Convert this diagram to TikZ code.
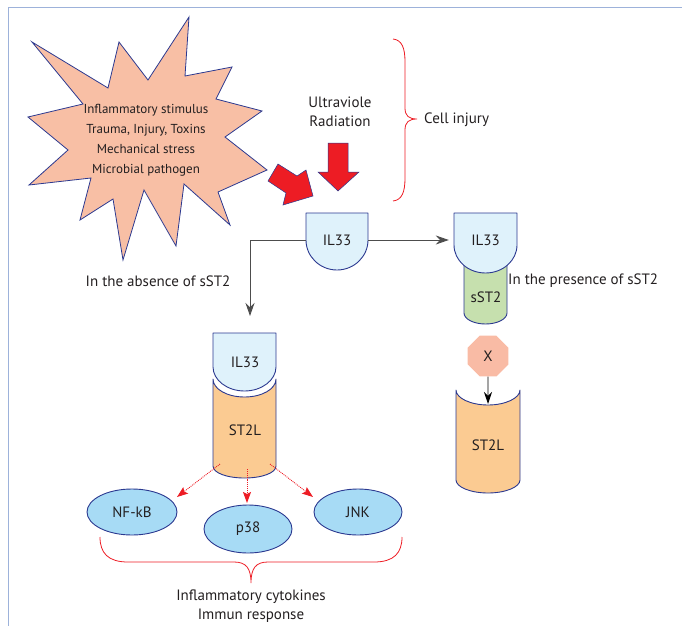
\documentclass[tikz,border=0pt]{standalone}
\usepackage{fontspec}
\setmainfont{PT Sans}
\usetikzlibrary{arrows.meta,shapes.geometric,calc}
\definecolor{framec}{HTML}{9DB2DA}
\definecolor{starfill}{HTML}{F8BFA5}
\definecolor{edgeblue}{HTML}{2B3990}
\definecolor{ilfill}{HTML}{DFF2FB}
\definecolor{stfill}{HTML}{FBCB92}
\definecolor{sstfill}{HTML}{C6E0AE}
\definecolor{xfill}{HTML}{F9BBA5}
\definecolor{elfill}{HTML}{A7DBF5}
\definecolor{redc}{HTML}{ED1C24}
\definecolor{txt}{HTML}{231F20}
\definecolor{linegray}{HTML}{4D4D4D}
\tikzset{
  shapeline/.style={draw=edgeblue, line width=0.9pt, line join=round},
  lbl/.style={inner sep=0pt, font=\fontsize{15}{17}\selectfont, text=txt},
  boxlbl/.style={inner sep=0pt, draw=none, font=\fontsize{15}{17}\selectfont, text=txt},
  conn/.style={draw=linegray, line width=0.9pt, -{Stealth[length=13pt, width=9pt]}},
  redconn/.style={draw=redc, line width=0.9pt, densely dotted, -{Stealth[length=11pt, width=8pt, inset=2pt, fill=redc]}},
  redarrow/.style={fill=redc, draw=edgeblue, line width=0.5pt, line join=miter},
  brace/.style={draw=redc, line width=0.8pt},
  oval/.style={ellipse, shapeline, fill=elfill, minimum width=90pt, minimum height=46pt, inner sep=0pt, font=\fontsize{15}{17}\selectfont, text=txt}
}
\begin{document}
\begin{tikzpicture}[x=1pt, y=-1pt]
\useasboundingbox (0,0) rectangle (682,626);
% frame
\draw[framec, line width=1pt] (682,7.5) -- (8.5,7.5) -- (8.5,626);
% star
\draw[shapeline, fill=starfill, line join=miter, line width=0.8pt]
 (32,42) -- (108,88) -- (119,42) -- (148,80) -- (189,17) -- (185,76) -- (232,67) -- (216,99)
 -- (262,111) -- (225,137) -- (267,170) -- (218,192) -- (230,225) -- (184,184) -- (176,246)
 -- (144,190) -- (123,260) -- (113,199) -- (80,220) -- (91,178) -- (29,185) -- (68,150)
 -- (28,117) -- (83,104) -- cycle;
\node[lbl, align=center, font=\fontsize{13}{20}\selectfont] (stim) at (146,140)
 {Inflammatory stimulus\\Trauma, Injury, Toxins\\Mechanical stress\\Microbial pathogen};
% Ultraviolet label
\node[lbl, align=center, font=\fontsize{15}{19}\selectfont] (uv) at (340,112) {Ultraviole\\Radiation};
% red arrows
\draw[redarrow] (328,143) -- (348,143) -- (348,172) -- (359,172) -- (338,191) -- (318,172) -- (328,172) -- cycle;
\draw[redarrow] (278,164) -- (297,176) -- (306,170) -- (313,196) -- (283,205) -- (286,193) -- (268,181) -- cycle;
% cell injury brace
\draw[brace] (393,39) .. controls (402,40) and (405,48) .. (405,62) -- (405,108)
  .. controls (405,116) and (409,119) .. (417,119)
  .. controls (409,119) and (405,122) .. (405,130) -- (405,178)
  .. controls (405,192) and (402,200) .. (393,201);
\node[lbl, anchor=west] (inj) at (424,120) {Cell injury};
% central IL33
\draw[shapeline, fill=ilfill] (306,213) -- (368,213) -- (368,240)
  .. controls (368,256.5) and (354.1,270) .. (337,270)
  .. controls (319.9,270) and (306,256.5) .. (306,240) -- cycle;
\node[boxlbl, minimum width=62pt, minimum height=54pt] (il33c) at (337,240) {IL33};
% right sST2 and IL33
\draw[shapeline, fill=sstfill] (464,250) -- (464,313)
  .. controls (464,319) and (473.6,324) .. (485.5,324)
  .. controls (497.4,324) and (507,319) .. (507,313) -- (507,250);
\node[boxlbl] (sst2) at (486,297) {sST2};
\draw[shapeline, fill=ilfill] (454,213) -- (517,213) -- (517,245)
  .. controls (517,260.5) and (502.9,273) .. (485.5,273)
  .. controls (468.1,273) and (454,260.5) .. (454,245) -- cycle;
\node[boxlbl, minimum width=63pt, minimum height=54pt] (il33r) at (485.5,240) {IL33};
% connectors from IL33
\coordinate (corner) at (250,240);
\coordinate (downend) at (250,316);
\draw[conn] (il33c.west) -- (corner) -- (downend);
\draw[conn, shorten >=5pt] (il33c.east) -- (il33r.west);
\node[lbl] (absence) at (158,281) {In the absence of sST2};
\node[lbl, anchor=west] (presence) at (508,281) {In the presence of sST2};
% left ST2L and IL33
\draw[shapeline, fill=stfill] (213,379)
  .. controls (213,389) and (227,397) .. (244.5,397)
  .. controls (262,397) and (276,389) .. (276,379) -- (276,466)
  .. controls (276,473) and (261.9,478) .. (244.5,478)
  .. controls (227.1,478) and (213,473) .. (213,466) -- cycle;
\node[boxlbl] (st2ll) at (245,430) {ST2L};
\draw[shapeline, fill=ilfill] (213,333) -- (276,333) -- (276,367)
  .. controls (276,380) and (261.9,391) .. (244.5,391)
  .. controls (227.1,391) and (213,380) .. (213,367) -- cycle;
\node[boxlbl] (il33l) at (245,362) {IL33};
% X and right ST2L
\node[regular polygon, regular polygon sides=8, fill=xfill, draw=none, minimum size=44pt, inner sep=0pt,
  font=\fontsize{15}{17}\selectfont, text=txt] (xnode) at (488,356) {X};
\draw[shapeline, fill=stfill] (456,390)
  .. controls (456,398) and (470.4,405) .. (488,405)
  .. controls (505.6,405) and (520,398) .. (520,390) -- (520,480)
  .. controls (520,487) and (505.6,493) .. (488,493)
  .. controls (470.4,493) and (456,487) .. (456,480) -- cycle;
\node[boxlbl] (st2lr) at (488,445) {ST2L};
\coordinate (st2rtop) at (488,404);
\draw[conn, draw=black, -{Stealth[length=12pt, width=8pt]}] (xnode.south) -- (st2rtop);
% ellipses
\node[oval] (nfkb) at (132,512) {NF-kB};
\node[oval, minimum width=88pt, minimum height=48pt] (p38) at (248,529) {p38};
\node[oval, minimum width=88pt] (jnk) at (358,512) {JNK};
% red dotted arrows
\coordinate (s1) at (220,464);
\coordinate (s2) at (247,469);
\coordinate (s3) at (270,464);
\coordinate (t1) at (177,497);
\coordinate (t2) at (247,503);
\coordinate (t3) at (313,497);
\draw[redconn] (s1) -- (t1);
\draw[redconn] (s2) -- (t2);
\draw[redconn] (s3) -- (t3);
% bottom brace
\draw[brace] (100,537) .. controls (100,553) and (108,562) .. (128,562) -- (234,562)
  .. controls (246,562) and (251,568) .. (251,583)
  .. controls (251,568) and (256,562) .. (268,562) -- (374,562)
  .. controls (394,562) and (402,553) .. (402,537);
\node[lbl, align=center, font=\fontsize{15}{19}\selectfont] (cyto) at (251,606) {Inflammatory cytokines\\Immun response};
\end{tikzpicture}
\end{document}
